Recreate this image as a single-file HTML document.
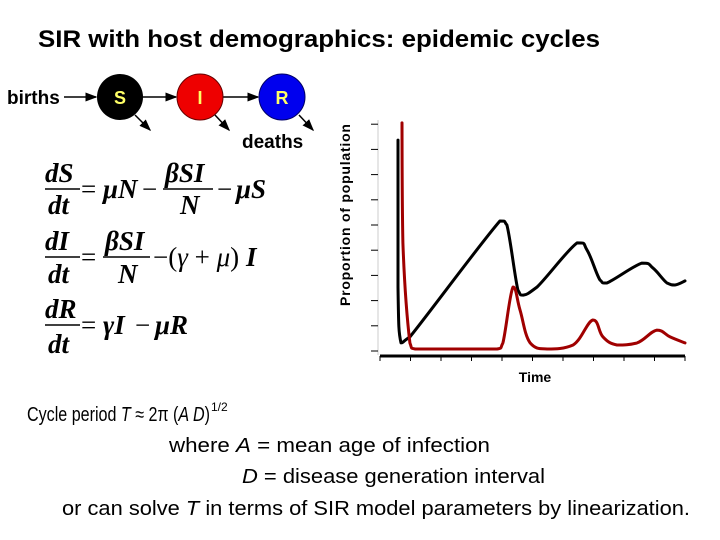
<!DOCTYPE html>
<html><head><meta charset="utf-8"><style>
body{margin:0;background:#fff;}
svg{display:block;font-family:"Liberation Sans",sans-serif;}
.eq{font-family:"Liberation Serif",serif;font-weight:bold;font-style:italic;font-size:27px;}
.eqn{font-family:"Liberation Serif",serif;font-size:27px;}
</style></head><body>
<svg id="root" width="720" height="540" viewBox="0 0 720 540">
<defs><marker id="ah" markerWidth="8" markerHeight="8" refX="7" refY="4" orient="auto"><path d="M0,1 L8,4 L0,7 Z" fill="#000"/></marker></defs>
<text x="38" y="47" font-size="24" font-weight="bold" textLength="562" lengthAdjust="spacingAndGlyphs">SIR with host demographics: epidemic cycles</text>
<g>
<text x="7" y="104" font-size="19" font-weight="bold">births</text>
<line x1="64" y1="97" x2="96" y2="97" stroke="#000" stroke-width="1.5" marker-end="url(#ah)"/>
<line x1="142" y1="97" x2="176" y2="97" stroke="#000" stroke-width="1.5" marker-end="url(#ah)"/>
<line x1="222" y1="97" x2="258" y2="97" stroke="#000" stroke-width="1.5" marker-end="url(#ah)"/>
<circle cx="120" cy="97" r="23" fill="#000"/>
<circle cx="200" cy="97" r="23" fill="#e00" stroke="#600"/>
<circle cx="282" cy="97" r="23" fill="#00e" stroke="#006"/>
<text x="120" y="104" font-size="18" font-weight="bold" fill="#ff6" text-anchor="middle">S</text>
<text x="200" y="104" font-size="18" font-weight="bold" fill="#ff6" text-anchor="middle">I</text>
<text x="282" y="104" font-size="18" font-weight="bold" fill="#ff6" text-anchor="middle">R</text>
<line x1="135" y1="115" x2="150" y2="130" stroke="#000" stroke-width="1.5" marker-end="url(#ah)"/>
<line x1="215" y1="115" x2="229" y2="130" stroke="#000" stroke-width="1.5" marker-end="url(#ah)"/>
<line x1="299" y1="115" x2="313" y2="130" stroke="#000" stroke-width="1.5" marker-end="url(#ah)"/>
<text x="242" y="148" font-size="19" font-weight="bold">deaths</text>
</g>
<g>
<text class="eq" x="45" y="182">dS</text><line x1="45" y1="189" x2="80" y2="189" stroke="#000" stroke-width="1.5"/><text class="eq" x="48" y="214">dt</text>
<text class="eqn" x="81" y="198">=</text><text class="eq" x="103" y="198">μN</text><text class="eqn" x="142" y="198">−</text>
<text class="eq" x="165" y="182">βSI</text><line x1="163" y1="189" x2="213" y2="189" stroke="#000" stroke-width="1.5"/><text class="eq" x="180" y="214">N</text>
<text class="eqn" x="217" y="198">−</text><text class="eq" x="236" y="198">μS</text>
<text class="eq" x="45" y="250">dI</text><line x1="45" y1="257" x2="80" y2="257" stroke="#000" stroke-width="1.5"/><text class="eq" x="48" y="283">dt</text>
<text class="eqn" x="81" y="266">=</text>
<text class="eq" x="105" y="250">βSI</text><line x1="103" y1="257" x2="150" y2="257" stroke="#000" stroke-width="1.5"/><text class="eq" x="118" y="283">N</text>
<text class="eqn" x="153" y="266">−(<tspan font-style="italic">γ</tspan> + <tspan font-style="italic">μ</tspan>)</text><text class="eq" x="246" y="266">I</text>
<text class="eq" x="45" y="318">dR</text><line x1="45" y1="325" x2="80" y2="325" stroke="#000" stroke-width="1.5"/><text class="eq" x="48" y="353">dt</text>
<text class="eqn" x="81" y="334">=</text><text class="eq" x="103" y="334">γI</text><text class="eqn" x="135" y="334">−</text><text class="eq" x="155" y="334">μR</text>
</g>
<g id="chart"></g>
<g>
<text x="27" y="421" font-size="20" textLength="183" lengthAdjust="spacingAndGlyphs">Cycle period <tspan font-style="italic">T</tspan> ≈ 2π (<tspan font-style="italic">A D</tspan>)</text><text x="211" y="411" font-size="12">1/2</text>
<text x="169" y="452" font-size="20" textLength="321" lengthAdjust="spacingAndGlyphs">where  <tspan font-style="italic">A</tspan> = mean age of infection</text>
<text x="242" y="483" font-size="20" textLength="303" lengthAdjust="spacingAndGlyphs"><tspan font-style="italic">D</tspan> = disease generation interval</text>
<text x="62" y="515" font-size="20" textLength="628" lengthAdjust="spacingAndGlyphs">or can solve <tspan font-style="italic">T</tspan> in terms of SIR model parameters by linearization.</text>
</g>
</svg>
<script>
const timeS=[0.59,0.59,0.69,0.98,3.93,4.16,4.52,4.69,5.15,6.46,6.79,7.21,7.44,8.59,8.95,9.41,9.67,10];
const valS=[8.37,2.54,0.32,0.56,5.16,5.0,2.42,2.22,2.54,4.29,4.0,2.82,2.7,3.49,3.29,2.7,2.62,2.78];
const timeI=[0.72,0.75,0.98,1.15,3.84,4.03,4.36,4.59,4.92,5.48,6.33,6.98,7.31,7.77,8.43,9.08,9.51,10];
const valI=[9.05,4.29,0.32,0.08,0.08,0.32,2.54,1.63,0.32,0.08,0.24,1.23,0.56,0.24,0.32,0.83,0.56,0.32];
const xTicks=[0,1,2,3,4,5,6,7,8,9,10];
const yTicks=[0,1,2,3,4,5,6,7,8,9];
const NS='http://www.w3.org/2000/svg';
const g=document.getElementById('chart');
const X=t=>380+t*30.5, Y=v=>351-v*25.2;
function mk(tag,attrs){const e=document.createElementNS(NS,tag);for(const k in attrs)e.setAttribute(k,attrs[k]);g.appendChild(e);return e;}
let e=mk('line',{x1:378,y1:120,x2:378,y2:355,stroke:'#ccc','stroke-width':1});


yTicks.forEach(v=>{const t=mk('line',{x1:371,x2:378,y1:Y(v),y2:Y(v),stroke:'#000','stroke-width':1});

});
e=mk('line',{x1:X(0),x2:X(10),y1:356,y2:356,stroke:'#000','stroke-width':3});


xTicks.forEach(v=>{const t=mk('line',{x1:X(v),x2:X(v),y1:356,y2:361,stroke:'#000','stroke-width':1});

});
const clamp=(v,a,b)=>Math.min(Math.max(v,Math.min(a,b)),Math.max(a,b));
function path(ts,vs,col,name){
  const P=ts.map((t,i)=>[X(t),Y(vs[i])]);
  let d='M'+P[0][0].toFixed(1)+','+P[0][1].toFixed(1);
  const k=0.2;
  for(let i=0;i<P.length-1;i++){
    const p0=P[Math.max(0,i-1)],p1=P[i],p2=P[i+1],p3=P[Math.min(P.length-1,i+2)];
    const c1=[clamp(p1[0]+(p2[0]-p0[0])*k,p1[0],p2[0]),clamp(p1[1]+(p2[1]-p0[1])*k,p1[1],p2[1])];
    const c2=[clamp(p2[0]-(p3[0]-p1[0])*k,p1[0],p2[0]),clamp(p2[1]-(p3[1]-p1[1])*k,p1[1],p2[1])];
    d+=' C'+c1[0].toFixed(1)+','+c1[1].toFixed(1)+' '+c2[0].toFixed(1)+','+c2[1].toFixed(1)+' '+p2[0].toFixed(1)+','+p2[1].toFixed(1);
  }
  const p=mk('path',{d:d,fill:'none',stroke:col,'stroke-width':3,'stroke-linejoin':'round','stroke-linecap':'round'});
  
  }
path(timeS,valS,'#000','susceptible-line');
path(timeI,valI,'#a00000','infected-line');
e=mk('text',{x:535,y:382,'font-size':14,'font-weight':'bold','text-anchor':'middle'});e.textContent='Time';


e=mk('text',{x:0,y:0,'font-size':14,'font-weight':'bold','text-anchor':'middle',textLength:182,lengthAdjust:'spacing',transform:'translate(350,215) rotate(-90)'});e.textContent='Proportion of population';


</script>
</body></html>
